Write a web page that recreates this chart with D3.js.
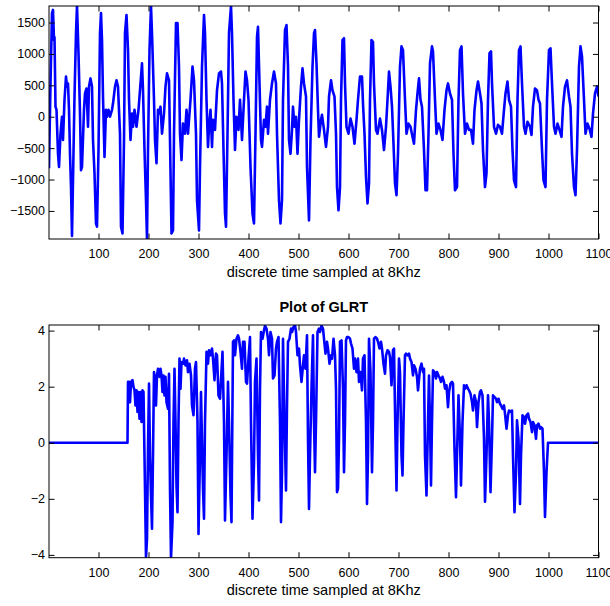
<!DOCTYPE html>
<html>
<head>
<meta charset="utf-8">
<script src="https://cdn.jsdelivr.net/npm/d3@7/dist/d3.min.js"></script>
<style>
  body { margin: 0; background: #fff; }
  svg { display: block; }
  text { font-family: "Liberation Sans", Arial, Helvetica, sans-serif; fill: #000; }
</style>
</head>
<body>
<div id="chart"></div>
<script>
// speech samples (sample index, amplitude)
var speechT = [1, 4, 7, 9, 11, 12, 14, 16, 19, 21, 24, 27, 29, 32, 35, 37, 39, 41, 43, 45, 47, 49, 52, 55, 57, 60, 63, 65, 67, 71, 73, 76, 79, 81, 84, 87, 89, 92, 95, 97,
  100, 103, 105, 107, 109, 112, 115, 117, 120, 123, 127, 129, 133, 136, 139, 143, 145, 148, 151, 153, 156, 159, 161, 164, 167, 169, 172, 176, 180, 184, 187, 189, 192, 195, 197, 199,
  202, 205, 207, 211, 213, 216, 219, 221, 224, 227, 231, 234, 237, 241, 243, 246, 249, 251, 255, 258, 261, 263, 266, 269, 273, 276, 279, 284, 288, 291, 295, 297,
  301, 303, 307, 311, 313, 316, 319, 321, 324, 327, 329, 333, 337, 341, 345, 347, 350, 353, 355, 358, 361, 365, 367, 370, 373, 376, 380, 383, 387, 391, 394, 397,
  400, 404, 408, 411, 414, 417, 419, 422, 425, 427, 431, 434, 437, 439, 443, 447, 451, 455, 457, 461, 464, 467, 469, 473, 476, 479, 481, 484, 487, 489, 492, 495, 498,
  501, 505, 508, 511, 515, 517, 521, 524, 528, 531, 533, 536, 539, 541, 545, 547, 551, 555, 559, 561, 565, 568, 572, 575, 577, 580, 583, 585, 588, 591, 593, 596,
  600, 604, 608, 612, 616, 619, 623, 627, 629, 632, 635, 638, 641, 643, 646, 649, 651, 655, 658, 663, 667, 671, 675, 678, 681, 684, 687, 690, 693, 696, 699,
  703, 706, 709, 713, 716, 720, 724, 728, 731, 735, 738, 741, 744, 747, 751, 754, 757, 760, 763, 767, 769, 773, 776, 780, 784, 788, 792, 796, 799,
  803, 807, 810, 813, 817, 820, 823, 826, 829, 833, 837, 841, 845, 849, 852, 856, 859, 863, 866, 869, 873, 876, 879, 882, 885, 887, 891, 895, 899,
  903, 907, 911, 914, 918, 921, 925, 928, 931, 935, 938, 941, 944, 947, 951, 954, 958, 963, 966, 969, 973, 977, 980, 983, 987, 990, 994, 997,
  1001, 1004, 1007, 1011, 1014, 1018, 1022, 1026, 1029, 1033, 1037, 1041, 1044, 1047, 1051, 1054, 1057, 1061, 1064, 1067, 1071, 1074, 1078, 1082, 1086, 1089, 1093, 1097, 1100];
var speechV = [-820, 530, 1650, 1700, 1220, 1270, 160, 110, -590, -800, -270, 0, -370, 270, 640, 480, 530, 110, -590, -1120, -1900, -1010, 320, 1330, 1763, 1010, 50, -850, -800, 110, 370, 450, -160, 480, 610, 480, -370, -900, -1700, -1750,
  -530, 1330, 1650, 1220, 320, -640, 110, 0, 110, 0, 110, 210, 480, 580, 480, -270, -1750, -1860, -370, 1330, 1620, 1060, 270, -370, 50, -160, 110, -160, 110, 530, 850, 420, -530, -1330, -1947, -530,
  1060, 1763, 1330, 270, -370, -740, 110, 50, 160, -270, 50, 480, 690, 580, -370, -1860, -1810, -270, 1490, 1490, 800, -270, -690, -110, -270, 110, -270, 270, 800, 580, -270, -1330,
  -1810, -800, 800, 1620, 1330, 270, -480, -160, 110, -480, -50, -210, 420, 690, 720, 530, -530, -1540, -1750, -270, 1330, 1763, 1330, 270, -530, 0, -210, 270, -370, 270, 720, 580,
  270, -800, -1540, -1700, -270, 1270, 1430, 530, -370, -480, -50, -160, 160, -270, 270, 530, 720, 530, -270, -1330, -1700, -1330, 270, 1380, 1460, 800, -370, -590, -210, 160, -160, 0, -590,
  -50, 480, 770, 530, 320, -800, -1650, -370, 800, 1330, 1380, 850, 110, -320, -50, 30, -210, -480, -160, 320, 580, 420, 320, -270, -1120, -1490, -1120, 270, 1220, 1250, 530, -160,
  -270, -30, -160, -430, -50, 270, 640, 640, 210, -270, -960, -1380, -1060, 270, 1220, 1190, 530, -210, -270, -30, -210, -530, -160, 270, 720, 480, 160, -430, -1060, -1250, -590,
  800, 1120, 1060, 270, -270, -110, -160, -320, -430, 110, 370, 610, 270, 160, -530, -1170, -1170, -270, 850, 1120, 1040, 270, -270, -110, -210, -370, 110, 420, 530,
  370, 270, -590, -1170, -1120, 270, 1060, 1120, 370, -270, -110, -210, -210, -430, 110, 420, 560, 370, 210, -530, -1120, -900, 270, 1010, 1040, 530, -160, -270, -130,
  -160, -270, 110, 370, 560, 270, 160, -530, -1010, -1120, 270, 1060, 1120, 530, -160, -270, -80, -160, -290, 160, 450, 420, 270, 210, -530, -1010, -1120, 270,
  1060, 1090, 530, -160, -270, -110, -210, -320, 160, 480, 580, 320, 160, -590, -1120, -1250, -530, 800, 1120, 960, 270, -270, -110, -190, -320, 50, 370, 480, 320];

// GLRT statistic (sample index, value)
var glrtT = [1, 158, 159, 160, 161, 163, 165, 168, 170, 172, 174, 176, 178, 180, 182, 184, 186, 188, 190, 193, 195, 197, 199,
  201, 203, 205, 207, 209, 211, 213, 215, 217, 219, 222, 224, 226, 228, 230, 232, 234, 236, 239, 241, 243, 245, 248, 250, 252, 254, 256, 258, 260, 262, 264, 266, 269, 271, 274, 277, 279, 282, 285, 287, 290, 293, 295, 298,
  300, 303, 305, 307, 309, 311, 313, 316, 319, 321, 324, 327, 329, 332, 335, 337, 340, 343, 345, 348, 351, 353, 356, 359, 361, 364, 366, 369, 371, 373, 376, 379, 381, 384, 387, 389, 392, 395, 397,
  400, 403, 405, 408, 411, 413, 416, 419, 421, 423, 425, 428, 431, 433, 436, 439, 441, 444, 447, 449, 452, 455, 457, 460, 463, 465, 467, 469, 472, 475, 477, 479, 482, 485, 487, 490, 493, 495, 498,
  501, 503, 506, 509, 511, 514, 517, 519, 521, 523, 526, 529, 531, 533, 535, 538, 541, 543, 546, 549, 551, 554, 557, 559, 562, 565, 567, 570, 573, 575, 577, 579, 581, 583, 586, 589, 591, 593, 595, 597,
  600, 603, 605, 608, 611, 613, 616, 619, 621, 624, 627, 629, 632, 635, 637, 639, 641, 644, 647, 649, 651, 654, 657, 659, 662, 665, 667, 670, 673, 675, 678, 681, 683, 686, 689, 691, 694, 696, 698,
  701, 703, 706, 708, 710, 713, 715, 718, 721, 723, 726, 729, 731, 734, 737, 739, 743, 746, 749, 751, 753, 756, 759, 761, 763, 765, 767, 769, 772, 775, 777, 780, 783, 785, 788, 791, 793, 796, 799,
  801, 804, 807, 809, 812, 815, 817, 820, 823, 825, 828, 831, 833, 836, 839, 841, 844, 847, 849, 852, 855, 857, 860, 863, 865, 868, 871, 873, 876, 879, 881, 884, 887, 889, 892, 895, 897,
  900, 903, 905, 908, 911, 913, 916, 919, 921, 924, 927, 929, 932, 935, 937, 940, 943, 945, 948, 951, 953, 956, 959, 961, 964, 967, 969, 972, 975, 977, 980, 983, 985, 988, 991, 993, 996, 999, 1100];
var glrtV = [0, 0, 2.17, 1.57, 2.17, 1.45, 2.17, 2.23, 1.99, 1.87, 1.33, 1.87, 1.1, 1.81, 0.86, 1.81, 0.74, 1.87, 1.81, -1.64, -4.1, -3.43, -0.21,
  2.11, -0.45, -1.88, -3.07, -0.45, 2.52, 2.29, 1.33, 2.4, 2.64, 2.35, 2.64, 2.4, 1.81, 2.4, 1.69, 2.35, 1.45, 1.21, 2.46, -1.64, -4.1, -2.83, 0.74, 2.64, 0.74, -1.52, -2.48, 0.74, 3.0, 1.93, 2.88, 2.82, 3.0, 2.76, 2.94, 2.52, 2.82, 2.4, 1.33, 0.98, 2.64, 2.88, 0.74,
  -3.25, -0.45, 1.81, 0.02, -1.64, -2.71, 0.74, 3.24, 2.82, 3.3, 3.12, 3.36, 3.0, 2.23, 3.18, 3.12, 1.69, 1.57, 2.23, 3.24, 0.74, -2.77, -0.45, 2.17, 0.74, -1.88, -2.83, 3.6, 3.65, 3.12, 3.71, 3.83, 3.71, 3.24, 2.64, 3.6, 3.6, 2.17, 2.11,
  3.0, 3.77, 0.74, -2.71, -0.69, 2.17, 3.0, -0.45, -2.06, 1.93, 3.95, 3.71, 4.01, 4.17, 4.07, 3.71, 3.12, 3.95, 3.71, 2.29, 2.4, 3.36, 3.6, 3.77, 0.74, -2.83, -1.05, 3.71, 0.74, -1.7, 1.33, 3.6, 3.71, 4.07, 3.95, 4.13, 4.2, 3.95, 3.12,
  3.36, 2.76, 2.17, 2.76, 3.12, 2.64, 3.83, 0.14, -2.36, -0.45, 1.93, 3.83, 0.74, -1.05, 0.74, 3.95, 4.07, 3.95, 4.17, 4.07, 3.71, 3.18, 3.6, 3.36, 2.82, 3.12, 3.0, 3.71, 3.12, 1.93, -1.76, -1.64, 0.14, 3.6, 3.65, 1.93, -1.05, 0.74, 3.65, 3.77,
  3.77, 3.71, 3.54, 3.36, 2.64, 3.0, 2.52, 3.0, 2.17, 2.52, 1.87, 3.0, 3.12, 0.74, -2.18, -0.45, 3.71, 2.52, -1.05, 0.74, 3.71, 3.77, 3.71, 3.6, 3.36, 3.6, 3.36, 2.82, 2.46, 3.12, 3.3, 3.24, 3.06, 2.05, 3.3, 3.36, 0.14, -1.7, 0.74,
  3.0, 2.52, -0.45, -1.17, 0.74, 3.12, 3.18, 3.12, 3.18, 3.0, 2.88, 2.4, 2.76, 2.64, 2.35, 1.87, 2.64, 2.82, 2.52, 2.64, -0.45, -1.88, 0.74, 2.4, 0.74, -1.52, 0.74, 2.58, 2.52, 2.29, 2.52, 2.4, 2.29, 2.17, 2.35, 2.17, 1.93, 2.05, 1.27,
  1.81, 2.11, 2.17, 2.11, -0.21, -1.94, -0.45, 1.69, 0.14, -1.52, 0.74, 2.05, 1.93, 2.05, 1.93, 1.87, 1.75, 1.45, 1.15, 1.69, 1.45, 0.56, 1.45, 1.81, 1.87, 1.69, 0.14, -2.1, -0.45, 1.69, 0.74, -1.76, 0.14, 1.69, 1.63, 1.57, 1.45,
  1.57, 1.39, 1.33, 1.21, 1.33, 1.04, 0.5, 0.98, 1.15, 1.1, 1.15, -0.45, -2.48, -1.05, 0.8, 0.14, -2.18, -0.45, 0.98, 0.92, 0.68, 0.98, 1.04, 0.86, 0.74, 0.38, 0.74, 0.62, 0.14, 0.62, 0.68, 0.5, 0.56, 0.5, -1.05, -2.65, -1.05, 0, 0];

var xTicks = [100, 200, 300, 400, 500, 600, 700, 800, 900, 1000, 1100];
var speechTicks = [-1500, -1000, -500, 0, 500, 1000, 1500];
var glrtTicks = [-4, -2, 0, 2, 4];
var X_DOMAIN = [1, 1100];
var SPEECH_DOMAIN = [-1947, 1763];
var GLRT_DOMAIN = [-4.1, 4.2];

(function () {
  'use strict';

  var WIDTH = 610,
    HEIGHT = 606,
    LEFT = 49,
    RIGHT = 598.5,
    TICK_LEN = 5.5,
    COLOR_LINE = '#0000ff',
    COLOR_AXIS = '#000000',
    svg;

  svg = d3.select('#chart').append('svg')
    .attr('width', WIDTH)
    .attr('height', HEIGHT);

  function drawPanel(opts) {
    var g, x, y, line, pts, clipId, axes;

    x = d3.scaleLinear().domain(X_DOMAIN).range([LEFT, RIGHT]);
    y = d3.scaleLinear().domain(opts.domain).range([opts.bottom, opts.top]);
    g = svg.append('g');
    clipId = 'clip-' + opts.name;

    g.append('clipPath').attr('id', clipId)
      .append('rect')
      .attr('x', LEFT).attr('y', opts.top)
      .attr('width', RIGHT - LEFT).attr('height', opts.bottom - opts.top);

    pts = opts.t.map(function (t, i) { return [t, opts.v[i]]; });
    line = d3.line()
      .x(function (d) { return x(d[0]); })
      .y(function (d) { return y(d[1]); });

    g.append('path')
      .datum(pts)
      .attr('clip-path', 'url(#' + clipId + ')')
      .attr('d', line)
      .attr('fill', 'none')
      .attr('stroke', COLOR_LINE)
      .attr('stroke-width', 2.6)
      .attr('stroke-linejoin', 'round');

    // matlab style: ticks point inwards on all four sides
    axes = [
      { a: d3.axisBottom(x).tickValues(xTicks).tickPadding(10).tickFormat(d3.format('d')), tr: 'translate(0,' + opts.bottom + ')' },
      { a: d3.axisTop(x).tickValues(xTicks).tickFormat(''), tr: 'translate(0,' + opts.top + ')' },
      { a: d3.axisLeft(y).tickValues(opts.ticks).tickPadding(4).tickFormat(d3.format('d')), tr: 'translate(' + LEFT + ',0)' },
      { a: d3.axisRight(y).tickValues(opts.ticks).tickFormat(''), tr: 'translate(' + RIGHT + ',0)' }
    ];
    axes.forEach(function (ax) {
      var ag = g.append('g')
        .attr('transform', ax.tr)
        .call(ax.a.tickSizeInner(-TICK_LEN).tickSizeOuter(0));
      ag.select('.domain').remove();
      ag.selectAll('line').attr('stroke', COLOR_AXIS);
      ag.selectAll('text')
        .attr('font-size', '12.5px')
        .attr('font-family', '"Liberation Sans", Arial, sans-serif');
    });

    g.append('rect')
      .attr('x', LEFT).attr('y', opts.top)
      .attr('width', RIGHT - LEFT).attr('height', opts.bottom - opts.top)
      .attr('fill', 'none')
      .attr('stroke', COLOR_AXIS)
      .attr('stroke-width', 1);

    g.append('text')
      .attr('x', (LEFT + RIGHT) / 2)
      .attr('y', opts.bottom + 37.5)
      .attr('text-anchor', 'middle')
      .attr('font-size', '14.5px')
      .text('discrete time sampled at 8Khz');

    if (opts.title) {
      g.append('text')
        .attr('x', (LEFT + RIGHT) / 2)
        .attr('y', opts.top - 13)
        .attr('text-anchor', 'middle')
        .attr('font-size', '14.5px')
        .attr('font-weight', 'bold')
        .text(opts.title);
    }
  }

  drawPanel({ name: 'speech', t: speechT, v: speechV, domain: SPEECH_DOMAIN, ticks: speechTicks, top: 6, bottom: 239 });
  drawPanel({ name: 'glrt', t: glrtT, v: glrtV, domain: GLRT_DOMAIN, ticks: glrtTicks, top: 325, bottom: 557.7, title: 'Plot of GLRT' });
})();
</script>
</body>
</html>
